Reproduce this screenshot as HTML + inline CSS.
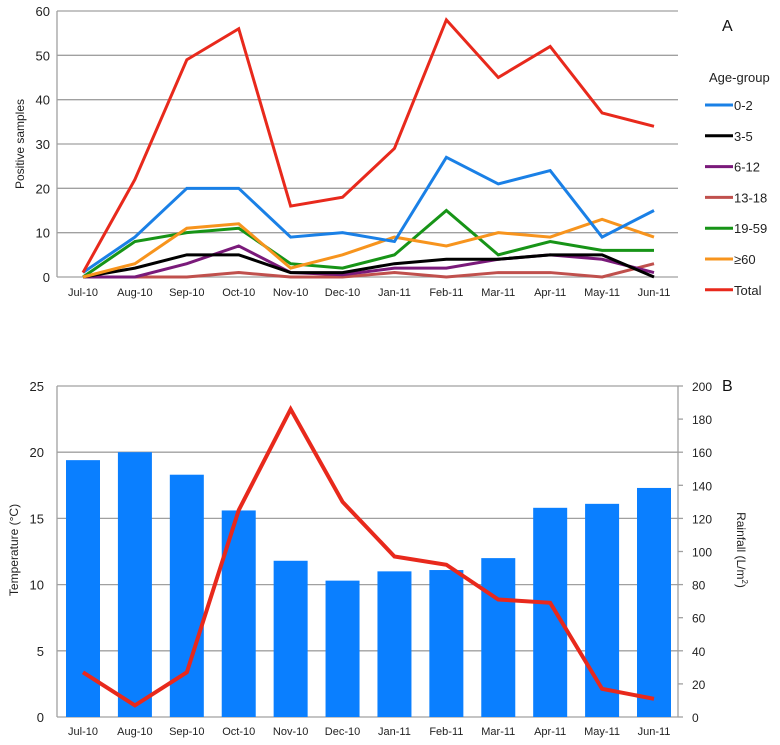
<!DOCTYPE html>
<html><head><meta charset="utf-8"><style>
body{margin:0;background:#fff}
svg{display:block;font-family:"Liberation Sans",sans-serif}
</style></head><body>
<svg id="c" width="780" height="745"></svg>
<script>
const months=["Jul-10","Aug-10","Sep-10","Oct-10","Nov-10","Dec-10","Jan-11","Feb-11","Mar-11","Apr-11","May-11","Jun-11"];
const s02=[1,9,20,20,9,10,8,27,21,24,9,15];
const s35=[0,2,5,5,1,1,3,4,4,5,5,0];
const s612=[0,0,3,7,1,0.5,2,2,4,5,4,1];
const s1318=[0,0,0,1,0,0,1,0,1,1,0,3];
const s1959=[0,8,10,11,3,2,5,15,5,8,6,6];
const s60=[0,3,11,12,2,5,9,7,10,9,13,9];
const sTotal=[1,22,49,56,16,18,29,58,45,52,37,34];
const topTicks=[0,10,20,30,40,50,60];
const temperature=[19.4,20.0,18.3,15.6,11.8,10.3,11.0,11.1,12.0,15.8,16.1,17.3];
const rainfall=[27,7,27,125,186,130,97,92,71,69,17,11];
const tempTicks=[0,5,10,15,20,25];
const rainTicks=[0,20,40,60,80,100,120,140,160,180,200];

const NS="http://www.w3.org/2000/svg";
const svg=document.getElementById('c');
function mk(t,a,p){const e=document.createElementNS(NS,t);for(const k in a)e.setAttribute(k,a[k]);(p||svg).appendChild(e);return e;}
const L=57,R=678;
const xAt=i=>83+i*(654-83)/11;
// TOP chart
const yT=v=>277-v*(266/60);
topTicks.forEach(t=>{
  const g=mk('line',{x1:L,x2:R,y1:yT(t),y2:yT(t),stroke:'#a0a0a0','stroke-width':1.3});
  
  const tx=mk('text',{x:50,y:yT(t)+5,'text-anchor':'end','font-size':13,fill:'#222'});tx.textContent=t;
  
});
mk('line',{x1:L,x2:L,y1:11,y2:277,stroke:'#a0a0a0','stroke-width':1.3});
months.forEach((m,i)=>{const t=mk('text',{x:xAt(i),y:296,'text-anchor':'middle','font-size':11,fill:'#222'});t.textContent=m;
  });
const yl=mk('text',{transform:'translate(24,144) rotate(-90)','text-anchor':'middle','font-size':12,fill:'#222'});yl.textContent='Positive samples';

const series=[[s02,'#1a80e6','0-2'],[s35,'#000','3-5'],[s612,'#7a1a7a','6-12'],[s1318,'#c0504d','13-18'],[s1959,'#179417','19-59'],[s60,'#f7941d','≥60'],[sTotal,'#e8291c','Total']];
const drawOrder=[3,2,1,4,5,0,6];
drawOrder.forEach(k=>{const [d,c,n]=series[k];
  const p=mk('polyline',{points:d.map((v,i)=>xAt(i)+','+yT(v)).join(' '),fill:'none',stroke:c,'stroke-width':3,'stroke-linejoin':'miter'});
  });
const A=mk('text',{x:722,y:31,'font-size':16,fill:'#111'});A.textContent='A';

const lt=mk('text',{x:709,y:82,'font-size':13,fill:'#222'});lt.textContent='Age-group';

series.forEach(([d,c,n],k)=>{const y=105+k*30.8;
  const g=mk('g',{});
  mk('line',{x1:705,x2:733,y1:y,y2:y,stroke:c,'stroke-width':3},g);
  const t=mk('text',{x:734,y:y+5,'font-size':13,fill:'#222'},g);t.textContent=n;});
// BOTTOM chart
const yB=v=>717-v*(331/25);
const yR=v=>717-v*(331/200);
tempTicks.forEach(t=>{
  const g=mk('line',{x1:L,x2:R,y1:yB(t),y2:yB(t),stroke:'#a0a0a0','stroke-width':1.3});
  
  const tx=mk('text',{x:44,y:yB(t)+5,'text-anchor':'end','font-size':13,fill:'#222'});tx.textContent=t;
  
});
rainTicks.forEach(t=>{
  mk('line',{x1:R,x2:R+5,y1:yR(t),y2:yR(t),stroke:'#a0a0a0','stroke-width':1.3});
  const tx=mk('text',{x:692,y:yR(t)+5,'font-size':12,fill:'#222'});tx.textContent=t;
  
});
mk('line',{x1:L,x2:L,y1:386,y2:717,stroke:'#a0a0a0','stroke-width':1.3});
mk('line',{x1:R,x2:R,y1:386,y2:717,stroke:'#a0a0a0','stroke-width':1.3});
temperature.forEach((v,i)=>{const b=mk('rect',{x:xAt(i)-17,y:yB(v),width:34,height:717-yB(v),fill:'#0a7fff'});
  });
const rl=mk('polyline',{points:rainfall.map((v,i)=>xAt(i)+','+yR(v)).join(' '),fill:'none',stroke:'#e8291c','stroke-width':4});

months.forEach((m,i)=>{const t=mk('text',{x:xAt(i),y:735,'text-anchor':'middle','font-size':11,fill:'#222'});t.textContent=m;
  });
const tl=mk('text',{transform:'translate(18,550) rotate(-90)','text-anchor':'middle','font-size':12,fill:'#222'});tl.textContent='Temperature (°C)';

const rt=mk('text',{transform:'translate(737,550) rotate(90)','text-anchor':'middle','font-size':12,fill:'#222'});
rt.innerHTML='Rainfall (L/m<tspan dy="-5" font-size="8">2</tspan><tspan dy="5">)</tspan>';

const B=mk('text',{x:722,y:391,'font-size':16,fill:'#111'});B.textContent='B';

</script>
</body></html>
